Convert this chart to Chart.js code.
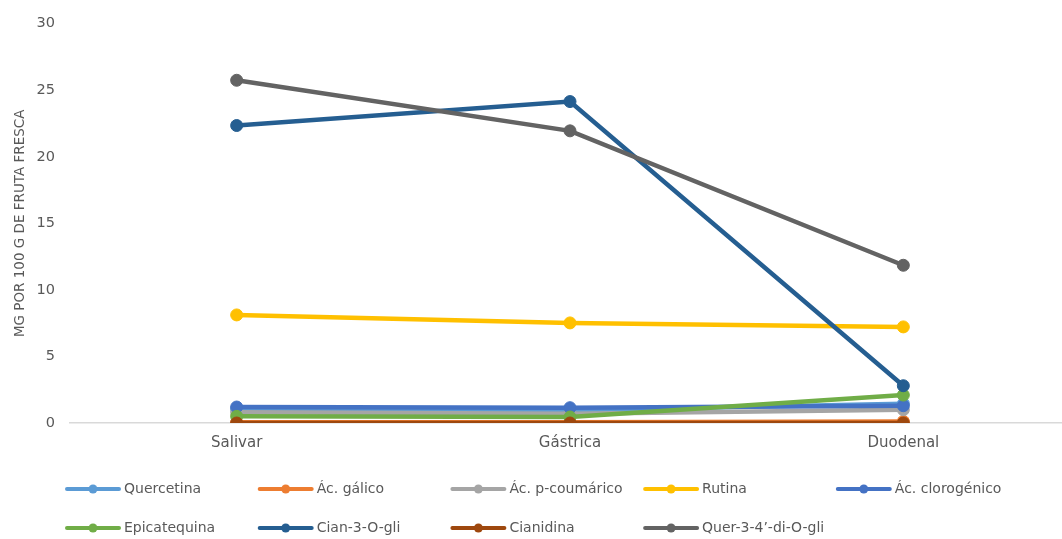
<!DOCTYPE html>
<html>
<head>
<meta charset="utf-8">
<script src="https://cdn.jsdelivr.net/npm/chart.js@4.4.0/dist/chart.umd.min.js"></script>
<style>
  html, body { margin: 0; padding: 0; background: #fff; overflow: hidden; }
  #c { display: block; }
</style>
</head>
<body>
<canvas id="c" width="1077" height="539"></canvas>
<script>
// Digestion phases on the x axis
const categories = ['Salivar', 'Gástrica', 'Duodenal'];

// Compound names, in legend order
const seriesNames = [
  'Quercetina', 'Ác. gálico', 'Ác. p-coumárico', 'Rutina', 'Ác. clorogénico',
  'Epicatequina', 'Cian-3-O-gli', 'Cianidina', 'Quer-3-4\u2019-di-O-gli'
];

// mg per 100 g of fresh fruit, per phase
const quercetina     = [1.05, 0.95, 1.45];
const acGalico       = [0.05, 0.05, 0.12];
const acPCoumarico   = [0.8, 0.7, 1.0];
const rutina         = [8.12, 7.52, 7.22];
const acClorogenico  = [1.2, 1.15, 1.3];
const epicatequina   = [0.5, 0.45, 2.1];
const cian3OGli      = [22.35, 24.15, 2.8];
const cianidina      = [0.0, 0.0, 0.0];
const quer34diOGli   = [25.75, 21.95, 11.85];

const yTicks = [0, 5, 10, 15, 20, 25, 30];

const seriesValues = [
  quercetina, acGalico, acPCoumarico, rutina, acClorogenico,
  epicatequina, cian3OGli, cianidina, quer34diOGli
];
const seriesColors = [
  '#5B9BD5', '#ED7D31', '#A5A5A5', '#FFC000', '#4472C4',
  '#70AD47', '#255E91', '#9E480E', '#636363'
];

const FONT = 'DejaVu Sans';
const TEXT = '#595959';

const datasets = seriesNames.map((name, i) => ({
  label: name,
  data: seriesValues[i],
  borderColor: seriesColors[i],
  backgroundColor: seriesColors[i],
  pointBackgroundColor: seriesColors[i],
  pointBorderColor: seriesColors[i],
  borderWidth: 4.5,
  pointRadius: 6,
  pointBorderWidth: 1,
  tension: 0,
  // later series are painted over earlier ones
  order: seriesNames.length - i
}));

// Legend laid out in fixed columns, two rows
const gridLegend = {
  id: 'gridLegend',
  afterDraw(chart) {
    const ctx = chart.ctx;
    const x0 = 65, colStep = 192.7, rows = [489, 528], perRow = 5;
    ctx.save();
    chart.data.datasets.forEach((ds, i) => {
      const col = i % perRow, row = Math.floor(i / perRow);
      const x = x0 + col * colStep, y = rows[row];
      ctx.strokeStyle = ds.borderColor;
      ctx.lineWidth = 4;
      ctx.lineCap = 'round';
      ctx.beginPath();
      ctx.moveTo(x + 2, y);
      ctx.lineTo(x + 54, y);
      ctx.stroke();
      ctx.fillStyle = ds.borderColor;
      ctx.beginPath();
      ctx.arc(x + 28, y, 4.5, 0, Math.PI * 2);
      ctx.fill();
      ctx.fillStyle = TEXT;
      ctx.font = '14px "' + FONT + '"';
      ctx.textBaseline = 'middle';
      ctx.textAlign = 'left';
      ctx.fillText(ds.label, x + 59, y);
    });
    ctx.restore();
  }
};

new Chart(document.getElementById('c'), {
  type: 'line',
  data: { labels: categories, datasets },
  plugins: [gridLegend],
  options: {
    responsive: false,
    animation: false,
    layout: { padding: { top: 15, right: 2, bottom: 76, left: 0 } },
    plugins: {
      legend: { display: false },
      tooltip: { enabled: false }
    },
    scales: {
      x: {
        offset: true,
        grid: { display: false, drawTicks: false },
        border: { display: true, color: '#D9D9D9', width: 1.5 },
        ticks: { color: TEXT, font: { family: FONT, size: 15 }, padding: 11 }
      },
      y: {
        min: 0,
        max: 30,
        afterBuildTicks(scale) { scale.ticks = yTicks.map(v => ({ value: v })); },
        afterFit(scale) { scale.width = 70; },
        grid: { display: false, drawTicks: false },
        border: { display: false },
        ticks: { color: TEXT, font: { family: FONT, size: 14.5 }, padding: 15 },
        title: {
          display: true,
          text: 'MG POR 100 G DE FRUTA FRESCA',
          color: TEXT,
          font: { family: FONT, size: 13.5 },
          padding: { top: 12, bottom: 0 }
        }
      }
    }
  }
});
</script>
</body>
</html>
